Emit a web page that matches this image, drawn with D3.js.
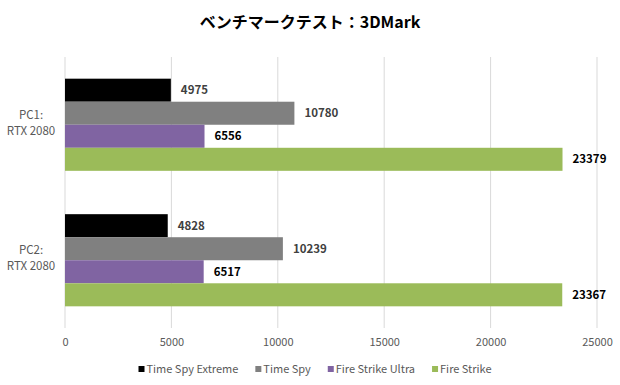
<!DOCTYPE html>
<html>
<head>
<meta charset="utf-8">
<script src="https://cdn.jsdelivr.net/npm/d3@7"></script>
<style>
  body { margin: 0; background: #fff; }
  svg { font-family: "Noto Sans CJK JP", "Noto Sans", sans-serif; }
</style>
</head>
<body>
<div id="chart"></div>
<script>
const categories = ['PC1:\nRTX 2080', 'PC2:\nRTX 2080'];
const seriesNames = ['Time Spy Extreme', 'Time Spy', 'Fire Strike Ultra', 'Fire Strike'];
const timeSpyExtreme = [4975, 4828];
const timeSpy = [10780, 10239];
const fireStrikeUltra = [6556, 6517];
const fireStrike = [23379, 23367];
const xTicks = [0, 5000, 10000, 15000, 20000, 25000];

const colors = ['#000000', '#808080', '#8064a2', '#9bbb59'];
const labelColors = ['#404040', '#404040', '#000000', '#000000'];
const seriesValues = [timeSpyExtreme, timeSpy, fireStrikeUltra, fireStrike];

const W = 620, H = 385;
const margin = { top: 57, right: 23, bottom: 57, left: 65 };
const width = W - margin.left - margin.right,
  height = H - margin.top - margin.bottom;

const svg = d3.select('#chart').append('svg')
  .attr('width', W).attr('height', H);

svg.append('text')
  .attr('x', W / 2).attr('y', 28)
  .attr('text-anchor', 'middle')
  .attr('font-size', 16).attr('font-weight', 'bold')
  .attr('fill', '#000')
  .text('ベンチマークテスト：3DMark');

const g = svg.append('g')
  .attr('transform', `translate(${margin.left},${margin.top})`);

const x = d3.scaleLinear().domain([0, 25000]).range([0, width]);
const y0 = d3.scaleBand().domain(categories).range([0, height]).paddingInner(0.32).paddingOuter(0.16);
const y1 = d3.scaleBand().domain(seriesNames).range([0, y0.bandwidth()]);

// gridlines
g.selectAll('.grid').data(xTicks).join('line')
  .attr('x1', d => x(d)).attr('x2', d => x(d))
  .attr('y1', 0).attr('y2', height)
  .attr('stroke', '#d9d9d9').attr('stroke-width', 1);

// x axis labels
const xAxis = g.append('g')
  .attr('transform', `translate(0,${height})`)
  .call(d3.axisBottom(x).tickValues(xTicks).tickSize(0).tickPadding(10).tickFormat(d3.format('d')));
xAxis.select('.domain').remove();
xAxis.selectAll('text').attr('font-size', 11).attr('fill', '#595959')
  .attr('font-family', '"Noto Sans CJK JP", sans-serif');

// category labels
categories.forEach(c => {
  const lines = c.split('\n');
  const cy = y0(c) + y0.bandwidth() / 2;
  const t = svg.append('text')
    .attr('x', 31).attr('text-anchor', 'middle')
    .attr('font-size', 11.5).attr('fill', '#595959');
  lines.forEach((ln, i) => {
    t.append('tspan').attr('x', 31)
      .attr('y', margin.top + cy + (i - 0.5) * 16 + 2)
      .text(ln);
  });
});

// bars
seriesValues.forEach((vals, si) => {
  const name = seriesNames[si];
  g.selectAll('.bar-' + si).data(vals).join('rect')
    .attr('x', x(0))
    .attr('y', (d, i) => y0(categories[i]) + y1(name))
    .attr('width', d => x(d) - x(0))
    .attr('height', y1.bandwidth())
    .attr('fill', colors[si]);
  g.selectAll('.lab-' + si).data(vals).join('text')
    .attr('x', d => x(d) + 10)
    .attr('y', (d, i) => y0(categories[i]) + y1(name) + y1.bandwidth() / 2 + 4)
    .attr('font-size', 11.5).attr('font-weight', 'bold')
    .attr('fill', labelColors[si])
    .text(d => d);
});

// legend, laid out by measured text widths and centred
const legend = svg.append('g').attr('transform', 'translate(0,369)');
const items = seriesNames.map((n, i) => {
  const it = legend.append('g');
  it.append('rect')
    .attr('x', 0).attr('y', -3)
    .attr('width', 6).attr('height', 6)
    .attr('fill', colors[i]);
  const tx = it.append('text')
    .attr('x', 8).attr('y', 4)
    .attr('font-size', 11).attr('fill', '#595959')
    .text(n);
  return { it, w: 8 + tx.node().getComputedTextLength() };
});
const gap = 17;
const total = d3.sum(items, d => d.w) + gap * (items.length - 1);
let cx = 315 - total / 2;
items.forEach(d => {
  d.it.attr('transform', `translate(${cx},0)`);
  cx += d.w + gap;
});
</script>
</body>
</html>
